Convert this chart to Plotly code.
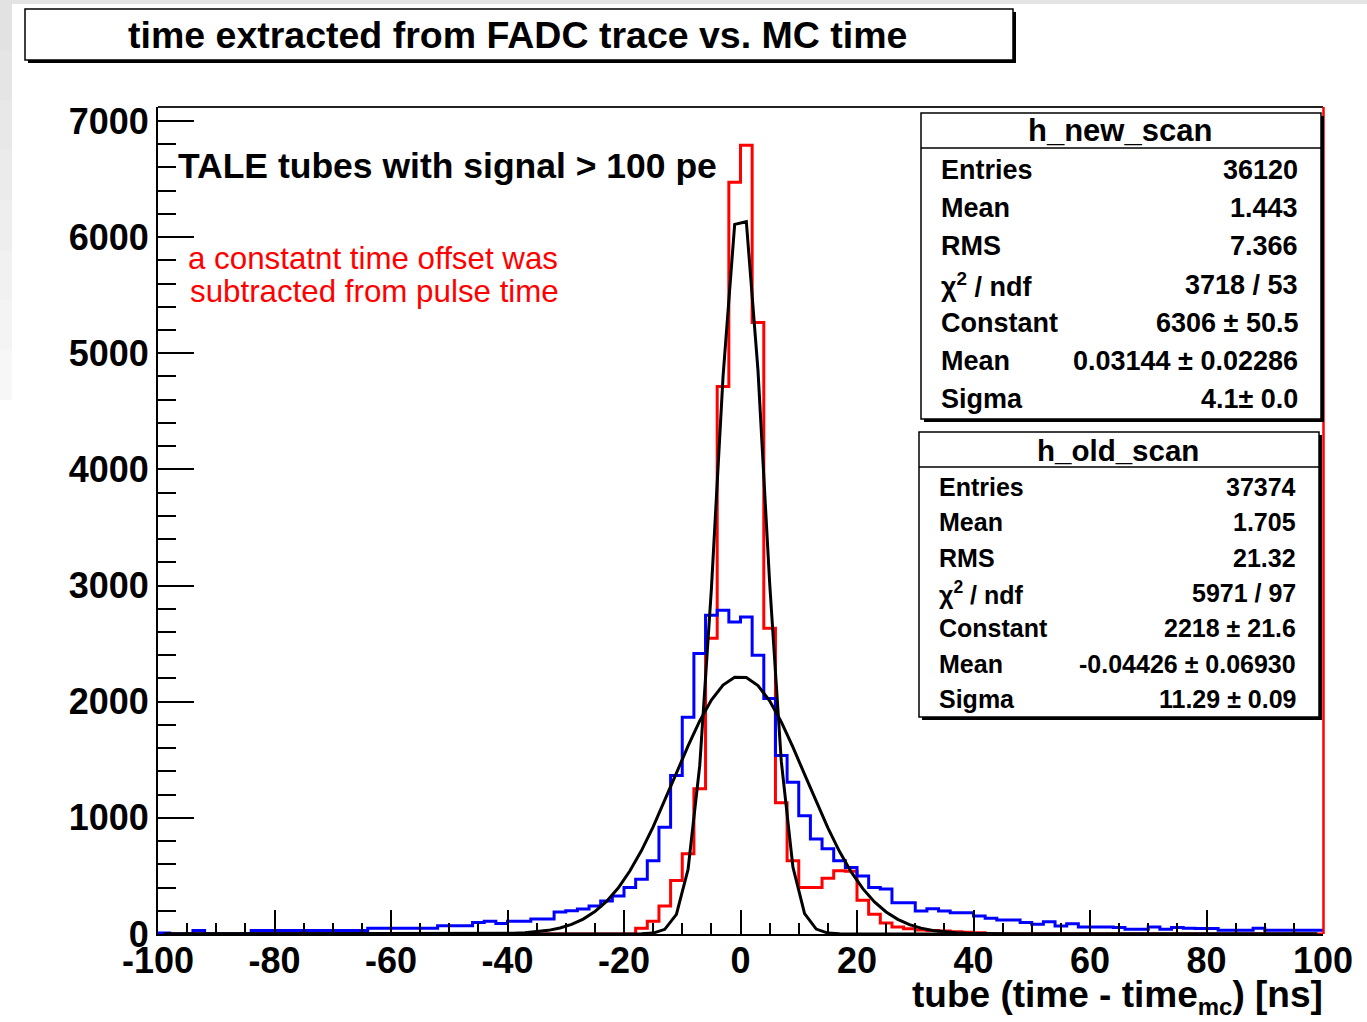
import numpy as np
import plotly.graph_objects as go

# ---- histogram contents: 100 bins of 2 ns from -100 to 100 ns ----
bin_lo, bin_hi, bin_w = -100.0, 100.0, 2.0

# h_new_scan (red), non-empty bins given from -18 ns to 42 ns
new_scan_first_edge = -18.0
new_scan_counts = [
    50, 110, 240, 460, 690, 1250, 2546, 4713, 6473, 6790,
    5265, 2632, 1130, 630, 400, 400, 480, 545, 540, 290,
    170, 95, 60, 45, 35, 30, 25, 20, 15, 10,
]

# h_old_scan (blue), all 100 bins
old_scan_counts = [
    8, 0, 0, 30, 0, 0, 0, 0, 30, 30,
    30, 30, 30, 30, 30, 30, 30, 30, 50, 50,
    50, 50, 50, 50, 70, 70, 70, 100, 110, 90,
    110, 110, 130, 130, 190, 200, 215, 242, 285, 328,
    400, 472, 630, 918, 1364, 1867, 2416, 2745, 2788, 2687,
    2730, 2400, 2028, 1536, 1306, 1018, 817, 733, 630, 572,
    500, 400, 388, 270, 270, 198, 218, 198, 184, 184,
    155, 135, 121, 121, 98, 84, 106, 69, 88, 60,
    60, 60, 55, 40, 40, 60, 40, 55, 50, 48,
    48, 32, 32, 32, 50, 32, 32, 32, 32, 32,
]

# gaussian fit results (Constant, Mean, Sigma)
new_fit = (6306.0, 0.03144, 4.1)
old_fit = (2218.0, -0.04426, 11.29)

# statistics boxes
new_stats_title = "h_new_scan"
new_stats = [
    ("Entries", "36120"),
    ("Mean", "1.443"),
    ("RMS", "7.366"),
    ("χ<sup>2</sup> / ndf", "3718 / 53"),
    ("Constant", "6306 ± 50.5"),
    ("Mean", "0.03144 ± 0.02286"),
    ("Sigma", "4.1± 0.0"),
]
old_stats_title = "h_old_scan"
old_stats = [
    ("Entries", "37374"),
    ("Mean", "1.705"),
    ("RMS", "21.32"),
    ("χ<sup>2</sup> / ndf", "5971 / 97"),
    ("Constant", "2218 ± 21.6"),
    ("Mean", "-0.04426 ± 0.06930"),
    ("Sigma", "11.29 ± 0.09"),
]

# axis tick labels
x_tick_vals = [-100, -80, -60, -40, -20, 0, 20, 40, 60, 80, 100]
x_tick_text = ["-100", "-80", "-60", "-40", "-20", "0", "20", "40", "60", "80", "100"]
y_tick_vals = [0, 1000, 2000, 3000, 4000, 5000, 6000, 7000]
y_tick_text = ["0", "1000", "2000", "3000", "4000", "5000", "6000", "7000"]

title_text = "time extracted from FADC trace vs. MC time"
label_text = "TALE tubes with signal > 100 pe"
note_lines = ["a constatnt time offset was", "subtracted from pulse time"]
x_title = "tube (time - time<sub><span style='font-size:24px'>mc</span></sub>) [ns]"

y_max = 7120

# ---- build step outlines ----
n_bins = int((bin_hi - bin_lo) / bin_w)
edges = bin_lo + bin_w * np.arange(n_bins + 1)
centers = edges[:-1] + bin_w / 2

new_full = np.zeros(n_bins)
start = int((new_scan_first_edge - bin_lo) / bin_w)
new_full[start:start + len(new_scan_counts)] = new_scan_counts
old_full = np.array(old_scan_counts, dtype=float)


def step_xy(vals):
    xs = list(edges[:-1]) + [edges[-1]]
    ys = list(vals) + [vals[-1]]
    return xs, ys


def gauss(params):
    c, m, s = params
    return c * np.exp(-0.5 * ((centers - m) / s) ** 2)


# ---- pixel helpers for the canvas furniture ----
W_FIG, H_FIG = 1367, 1022
L, R, T, B = 158, 1323, 107, 934
PW, PH = R - L, B - T


def px(x):
    return (x - L) / PW


def py(y):
    return (B - y) / PH


FONT = "Liberation Sans, Arial, sans-serif"

fig = go.Figure()

xr, yr = step_xy(new_full)
fig.add_trace(go.Scatter(x=xr, y=yr, mode="lines", line_shape="hv",
                         line=dict(color="#ff0000", width=3), hoverinfo="skip"))
xb, yb = step_xy(old_full)
fig.add_trace(go.Scatter(x=xb, y=yb, mode="lines", line_shape="hv",
                         line=dict(color="#0000ff", width=3), hoverinfo="skip"))
fig.add_trace(go.Scatter(x=centers, y=gauss(new_fit), mode="lines",
                         line=dict(color="black", width=3), hoverinfo="skip"))
fig.add_trace(go.Scatter(x=centers, y=gauss(old_fit), mode="lines",
                         line=dict(color="black", width=3), hoverinfo="skip"))

shapes = []
annotations = []

# light grey vignette at the canvas edge
shapes.append(dict(type="rect", xref="paper", yref="paper", x0=px(0), x1=px(W_FIG),
                   y0=py(4), y1=py(0), fillcolor="#e4e4e4", line_width=0, layer="below"))
for k in range(8):
    g = 226 + k * 3
    shapes.append(dict(type="rect", xref="paper", yref="paper", x0=px(0), x1=px(12),
                       y0=py(50 * (k + 1)), y1=py(50 * k),
                       fillcolor=f"rgb({g},{g},{g})", line_width=0, layer="below"))

# frame top line
shapes.append(dict(type="line", xref="paper", yref="paper", x0=0, x1=1, y0=1, y1=1,
                   line=dict(color="#222", width=2), layer="above"))
# red outline at the upper edge of the range
shapes.append(dict(type="line", xref="paper", yref="paper", x0=px(1323.5), x1=px(1323.5),
                   y0=0, y1=1, line=dict(color="#ff0000", width=2.5), layer="above"))


def pave(x0, y0, x1, y1, shadow=3, sep=None):
    shapes.append(dict(type="rect", xref="paper", yref="paper",
                       x0=px(x0 + shadow), x1=px(x1 + shadow),
                       y0=py(y1 + shadow), y1=py(y0 + shadow),
                       fillcolor="black", line_width=0, layer="above"))
    shapes.append(dict(type="rect", xref="paper", yref="paper",
                       x0=px(x0), x1=px(x1), y0=py(y1), y1=py(y0),
                       fillcolor="white", line=dict(color="black", width=1.5), layer="above"))
    if sep is not None:
        shapes.append(dict(type="line", xref="paper", yref="paper",
                           x0=px(x0), x1=px(x1), y0=py(sep), y1=py(sep),
                           line=dict(color="black", width=1.5), layer="above"))


def text(x, y, s, size, anchor="left", color="black", bold=True):
    annotations.append(dict(xref="paper", yref="paper", x=px(x), y=py(y), text=s,
                            showarrow=False, xanchor=anchor, yanchor="middle",
                            font=dict(family=FONT, size=size, color=color,
                                      weight="bold" if bold else "normal")))


# title pave
pave(25, 9, 1013, 60)
text(517, 35, title_text, 37.5, anchor="center")

# statistics boxes
pave(921, 113, 1321, 419, sep=148)
text(1120, 130, new_stats_title, 31, anchor="center")
for i, (k, v) in enumerate(new_stats):
    yy = 170 + i * 38.2
    text(939, yy, k, 27)
    text(1300, yy, v, 27, anchor="right")

pave(919, 432, 1319, 717, sep=467)
text(1118, 450, old_stats_title, 29.5, anchor="center")
for i, (k, v) in enumerate(old_stats):
    yy = 487 + i * 35.3
    text(937, yy, k, 25)
    text(1298, yy, v, 25, anchor="right")

# in-plot labels
text(176, 166, label_text, 35.5)
text(186, 258, note_lines[0], 31.3, color="#ff0000", bold=False)
text(188, 291, note_lines[1], 31.3, color="#ff0000", bold=False)

# x axis title
text(1325, 997, x_title, 37, anchor="right")

tickfont = dict(family=FONT, size=36, color="black", weight="bold")

fig.update_layout(
    width=W_FIG, height=H_FIG,
    margin=dict(l=L, r=W_FIG - R, t=T, b=H_FIG - B),
    paper_bgcolor="white", plot_bgcolor="white",
    showlegend=False, hovermode=False,
    shapes=shapes, annotations=annotations,
    xaxis=dict(range=[bin_lo, bin_hi], tickmode="array", tickvals=x_tick_vals,
               ticktext=x_tick_text, ticks="inside", ticklen=24,
               tickwidth=2, tickcolor="black", showline=True, linewidth=2, linecolor="black",
               showgrid=False, zeroline=False, tickfont=tickfont, ticklabelstandoff=-6,
               minor=dict(ticks="inside", ticklen=11, dtick=5, tick0=0, tickwidth=2,
                          tickcolor="black", showgrid=False)),
    yaxis=dict(range=[0, y_max], tickmode="array", tickvals=y_tick_vals,
               ticktext=y_tick_text, ticks="inside", ticklen=36,
               tickwidth=2, tickcolor="black", showline=True, linewidth=2, linecolor="black",
               showgrid=False, zeroline=False, tickfont=tickfont, ticklabelstandoff=0,
               minor=dict(ticks="inside", ticklen=18, dtick=200, tick0=0, tickwidth=2,
                          tickcolor="black", showgrid=False)),
)

fig.write_html("out.html", config={"displayModeBar": False})
